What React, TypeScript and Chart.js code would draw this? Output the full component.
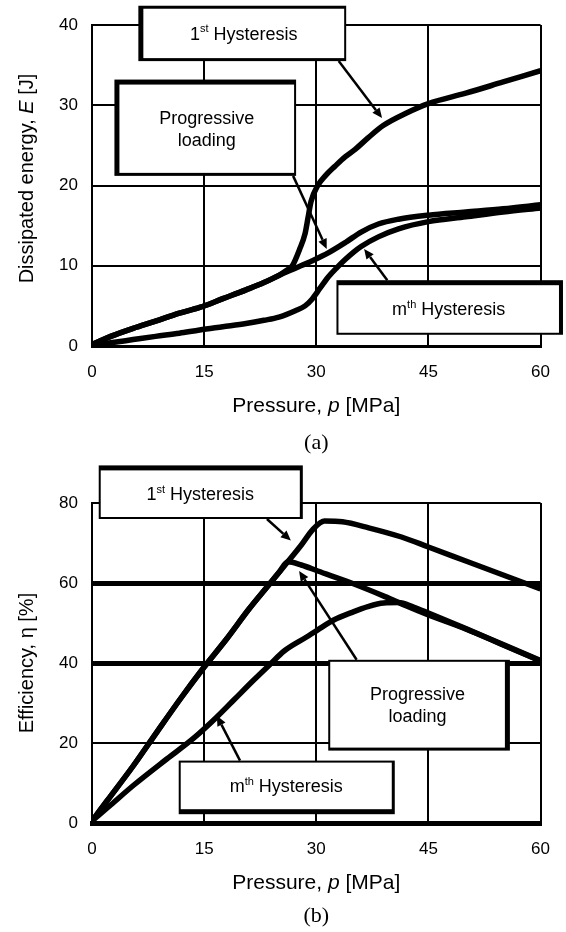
import React, { useEffect, useRef } from "react";
import { Chart, registerables } from "chart.js";

Chart.register(...registerables);

// ---------- Panel (a): Dissipated energy vs pressure ----------
const pressureTicks = [0, 15, 30, 45, 60];
const energyTicks = [0, 10, 20, 30, 40];

const aProgP = [0, 2.5, 5.5, 8.5, 11.7, 14.4, 17.5, 20.6, 23, 25, 27.2, 29.4, 31.6, 33.9, 36, 38.3, 41, 45, 50, 55, 60];
const aProgE = [0.2, 1.2, 2.2, 3.1, 4.1, 4.8, 5.9, 7.0, 7.9, 8.8, 9.7, 10.6, 11.6, 12.9, 14.2, 15.2, 15.8, 16.3, 16.7, 17.1, 17.6];

const aFirstP = [0, 2.5, 5.5, 8.5, 11.7, 14.4, 17.5, 20.6, 23, 25, 26, 26.8, 27.75, 28.5, 28.9, 29.3, 30.2, 31.2, 32.5, 33.9, 35.2, 37, 39, 42, 45, 50, 55, 60];
const aFirstE = [0.2, 1.2, 2.2, 3.1, 4.1, 4.8, 5.9, 7.0, 7.9, 8.8, 9.4, 10, 12, 14, 16, 18, 20, 21.2, 22.4, 23.6, 24.5, 26, 27.5, 29, 30.2, 31.5, 32.9, 34.3];

const aMthP = [0, 2.5, 5.5, 8.5, 11.7, 14.4, 17.5, 20.6, 23, 25, 27.2, 28.5, 29.4, 30.5, 31.6, 32.8, 33.9, 35, 36, 38.3, 41, 45, 50, 55, 60];
const aMthE = [0.1, 0.4, 0.8, 1.2, 1.6, 2.0, 2.4, 2.8, 3.2, 3.6, 4.4, 5.0, 5.8, 7.2, 8.6, 9.8, 10.8, 11.7, 12.4, 13.6, 14.6, 15.5, 16.1, 16.7, 17.2];

// ---------- Panel (b): Efficiency vs pressure ----------
const efficiencyTicks = [0, 20, 40, 60, 80];

const bFirstP = [0, 2, 5.6, 8.7, 12, 14.8, 18, 21, 23.5, 25.7, 28, 29.6, 31.1, 33.5, 37, 41.4, 45, 50, 55, 60];
const bFirstEta = [0.5, 5.5, 14.5, 22.8, 31.5, 38.5, 46, 53.5, 59.2, 64.2, 69.5, 73.5, 75.5, 75.3, 73.8, 71.5, 69, 65.5, 62, 58.5];

const bProgP = [0, 2, 5.6, 8.7, 12, 14.8, 18, 21, 23.5, 25, 26.2, 28, 30.2, 34.7, 39.2, 42, 45, 50, 55, 60];
const bProgEta = [0.5, 5.5, 14.5, 22.8, 31.5, 38.5, 46, 53.5, 59.2, 62.6, 65.3, 64.5, 63, 60, 56.6, 54.3, 52, 48.5, 44.5, 40.5];

const bMthP = [0, 2.5, 5.6, 10, 13.6, 16.7, 19, 21.5, 23.9, 25.7, 28.7, 30.2, 32.4, 34.7, 36.9, 39, 41, 43, 45, 50, 55, 60];
const bMthEta = [0.5, 4.5, 9.5, 16, 21.2, 26.5, 30.8, 35.5, 39.8, 43.0, 46.5, 48.3, 50.8, 52.6, 54.1, 55, 55.1, 54, 52.5, 48.6, 44.6, 40.6];

// ---------- Text ----------
type Part = { t: string; sup?: boolean; it?: boolean };
const labelFirst: Part[][] = [[{ t: "1" }, { t: "st", sup: true }, { t: " Hysteresis" }]];
const labelProg: Part[][] = [[{ t: "Progressive" }], [{ t: "loading" }]];
const labelMth: Part[][] = [[{ t: "m" }, { t: "th", sup: true }, { t: " Hysteresis" }]];
const xTitle: Part[] = [{ t: "Pressure, " }, { t: "p", it: true }, { t: " [MPa]" }];
const aYTitle: Part[] = [{ t: "Dissipated energy, " }, { t: "E", it: true }, { t: " [J]" }];
const bYTitle: Part[] = [{ t: "Efficiency, η [%]" }];
const aPanel = "(a)";
const bPanel = "(b)";

// ---------- Callouts (data units: [xMin, xMax, yMin, yMax], arrows: [x0, y0, x1, y1]) ----------
const aBoxes = [
  { r: [6.2, 34.0, 35.5, 42.4], b: [3, 2, 3, 5], label: labelFirst },
  { r: [3.0, 27.3, 21.2, 33.2], b: [5, 2, 3, 5], label: labelProg },
  { r: [32.7, 63.0, 1.4, 8.2], b: [5, 4, 2, 2], label: labelMth },
];
const aArrows = [
  [33.0, 35.5, 38.8, 28.4],
  [26.9, 21.2, 31.4, 12.1],
  [39.5, 8.2, 36.4, 12.1],
];
const bBoxes = [
  { r: [0.9, 28.2, 76.0, 89.4], b: [5, 3, 2, 2], label: labelFirst },
  { r: [31.6, 55.9, 18.1, 40.8], b: [2, 5, 3, 2], label: labelProg },
  { r: [11.6, 40.5, 2.2, 15.6], b: [2, 3, 5, 2], label: labelMth },
];
const bArrows = [
  [23.4, 76.0, 26.6, 70.6],
  [35.4, 40.8, 27.7, 63.0],
  [19.8, 15.6, 16.7, 26.8],
];

const SANS = '"Liberation Sans", Arial, Helvetica, sans-serif';
const SERIF = '"Liberation Serif", "Times New Roman", serif';

function partFont(p: Part, size: number) {
  const s = p.sup ? Math.round(size * 0.62) : size;
  return `${p.it ? "italic " : ""}${s}px ${SANS}`;
}

function drawParts(ctx: CanvasRenderingContext2D, parts: Part[], cx: number, baseY: number, size: number) {
  let w = 0;
  for (const p of parts) {
    ctx.font = partFont(p, size);
    w += ctx.measureText(p.t).width;
  }
  let x = cx - w / 2;
  ctx.textAlign = "left";
  ctx.textBaseline = "alphabetic";
  for (const p of parts) {
    ctx.font = partFont(p, size);
    ctx.fillText(p.t, x, p.sup ? baseY - size * 0.42 : baseY);
    x += ctx.measureText(p.t).width;
  }
}

const decorPlugin = {
  id: "decor",
  afterDraw(chart: any, _args: any, opts: any) {
    const { ctx, chartArea, scales } = chart;
    const xs = scales.x;
    const ys = scales.y;
    ctx.save();
    ctx.fillStyle = "#000";
    ctx.strokeStyle = "#000";

    // arrows
    for (const a of opts.arrows) {
      const x0 = xs.getPixelForValue(a[0]);
      const y0 = ys.getPixelForValue(a[1]);
      const x1 = xs.getPixelForValue(a[2]);
      const y1 = ys.getPixelForValue(a[3]);
      const ang = Math.atan2(y1 - y0, x1 - x0);
      const L = 10;
      const W = 4.5;
      const bx = x1 - L * Math.cos(ang);
      const by = y1 - L * Math.sin(ang);
      ctx.beginPath();
      ctx.moveTo(x0, y0);
      ctx.lineTo(bx, by);
      ctx.lineWidth = 2.5;
      ctx.stroke();
      ctx.beginPath();
      ctx.moveTo(x1, y1);
      ctx.lineTo(bx + W * Math.sin(ang), by - W * Math.cos(ang));
      ctx.lineTo(bx - W * Math.sin(ang), by + W * Math.cos(ang));
      ctx.closePath();
      ctx.fill();
    }

    // callout boxes
    for (const bx of opts.boxes) {
      const l = xs.getPixelForValue(bx.r[0]);
      const r = xs.getPixelForValue(bx.r[1]);
      const t = ys.getPixelForValue(bx.r[3]);
      const b = ys.getPixelForValue(bx.r[2]);
      const [bt, br, bb, bl] = bx.b;
      ctx.fillStyle = "#000";
      ctx.fillRect(l, t, r - l, b - t);
      ctx.fillStyle = "#fff";
      ctx.fillRect(l + bl, t + bt, r - l - bl - br, b - t - bt - bb);
      ctx.fillStyle = "#000";
      const cx = (l + bl + r - br) / 2;
      const cy = (t + bt + b - bb) / 2;
      const n = bx.label.length;
      const lh = 22;
      const size = 18;
      bx.label.forEach((line: Part[], i: number) => {
        const base = cy + (i - (n - 1) / 2) * lh + size * 0.36;
        drawParts(ctx, line, cx, base, size);
      });
    }

    // x axis title
    const midX = (chartArea.left + chartArea.right) / 2;
    drawParts(ctx, opts.xTitle, midX, chartArea.bottom + 66, 21);

    // y axis title (rotated)
    const midY = (chartArea.top + chartArea.bottom) / 2 + opts.yTitleShift;
    ctx.save();
    ctx.translate(33, midY);
    ctx.rotate(-Math.PI / 2);
    drawParts(ctx, opts.yTitle, 0, 0, 20);
    ctx.restore();

    // panel label
    ctx.font = `22px ${SERIF}`;
    ctx.textAlign = "center";
    ctx.textBaseline = "middle";
    ctx.fillText(opts.panel, midX, chartArea.bottom + opts.panelOffset);
    ctx.restore();
  },
};

function series(px: number[], py: number[]) {
  return {
    data: px.map((x, i) => ({ x, y: py[i] })),
    borderColor: "#000",
    backgroundColor: "#000",
    borderWidth: 5.5,
    pointRadius: 0,
    fill: false,
    cubicInterpolationMode: "monotone" as const,
  };
}

function makeConfig(opts: {
  datasets: any[];
  yTicks: number[];
  yMax: number;
  thickY: number[];
  bottomBorder: number;
  padTop: number;
  decor: any;
}) {
  return {
    type: "line" as const,
    data: { datasets: opts.datasets },
    plugins: [decorPlugin],
    options: {
      responsive: false,
      animation: false as const,
      events: [],
      layout: { padding: { top: opts.padTop, right: 22, left: 0, bottom: 0 } },
      plugins: {
        legend: { display: false },
        tooltip: { enabled: false },
        title: { display: false },
        decor: opts.decor,
      },
      scales: {
        x: {
          type: "linear" as const,
          min: 0,
          max: 60,
          afterBuildTicks: (s: any) => {
            s.ticks = pressureTicks.map((v) => ({ value: v }));
          },
          afterFit: (s: any) => {
            s.height = 131;
          },
          ticks: { color: "#000", font: { family: SANS, size: 17 }, padding: 16, maxRotation: 0, autoSkip: false },
          grid: { color: "#000", lineWidth: 2, drawTicks: false },
          border: { color: "#000", width: opts.bottomBorder },
        },
        y: {
          type: "linear" as const,
          min: 0,
          max: opts.yMax,
          afterBuildTicks: (s: any) => {
            s.ticks = opts.yTicks.map((v) => ({ value: v }));
          },
          afterFit: (s: any) => {
            s.width = 92;
          },
          ticks: { color: "#000", font: { family: SANS, size: 17 }, padding: 14 },
          grid: {
            color: "#000",
            lineWidth: (c: any) => (c.tick && opts.thickY.includes(c.tick.value) ? 5 : 2),
            drawTicks: false,
          },
          border: { color: "#000", width: 2 },
        },
      },
    },
  };
}

export default function App() {
  const refA = useRef<HTMLCanvasElement>(null);
  const refB = useRef<HTMLCanvasElement>(null);

  useEffect(() => {
    const chartA = new Chart(
      refA.current!,
      makeConfig({
        datasets: [series(aProgP, aProgE), series(aFirstP, aFirstE), series(aMthP, aMthE)],
        yTicks: energyTicks,
        yMax: 40,
        thickY: [],
        bottomBorder: 3,
        padTop: 25,
        decor: { boxes: aBoxes, arrows: aArrows, xTitle, yTitle: aYTitle, panel: aPanel, panelOffset: 97, yTitleShift: -7 },
      }) as any
    );
    const chartB = new Chart(
      refB.current!,
      makeConfig({
        datasets: [series(bProgP, bProgEta), series(bFirstP, bFirstEta), series(bMthP, bMthEta)],
        yTicks: efficiencyTicks,
        yMax: 80,
        thickY: [40, 60],
        bottomBorder: 5,
        padTop: 53,
        decor: { boxes: bBoxes, arrows: bArrows, xTitle, yTitle: bYTitle, panel: bPanel, panelOffset: 93, yTitleShift: 0 },
      }) as any
    );
    return () => {
      chartA.destroy();
      chartB.destroy();
    };
  }, []);

  return (
    <div
      style={{
        position: "absolute",
        left: 0,
        top: 0,
        width: 566,
        height: 932,
        overflow: "hidden",
        background: "#fff",
      }}
    >
      <canvas
        ref={refA}
        width={566}
        height={477}
        style={{ position: "absolute", left: 0, top: 0, width: 566, height: 477 }}
      />
      <canvas
        ref={refB}
        width={566}
        height={504}
        style={{ position: "absolute", left: 0, top: 450, width: 566, height: 504 }}
      />
    </div>
  );
}
